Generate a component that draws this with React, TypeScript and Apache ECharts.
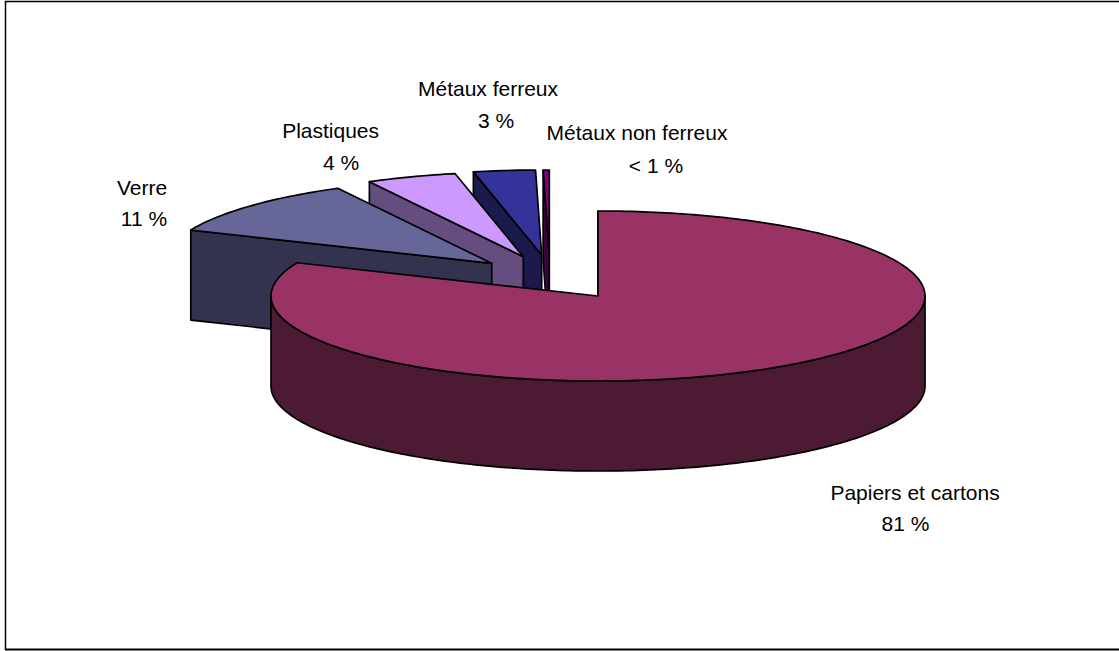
import React, { useEffect, useRef } from "react";
import * as echarts from "echarts";

const categories = ["Papiers et cartons", "Verre", "Plastiques", "Métaux ferreux", "Métaux non ferreux"];
const shares = [81.4, 10.8, 4.45, 3.05, 0.3];
const percentLabels = ["81 %", "11 %", "4 %", "3 %", "< 1 %"];

const topColors = ["#993366", "#666699", "#CC99FF", "#333399", "#800080"];
const wallColors = ["#4D1A33", "#333350", "#664D80", "#1A1A4D", "#400040"];
const explodeX = [0, -106.3, -74.7, -56.3, -48.7];
const explodeY = [0, -32.7, -39.3, -41, -41];
const nameX = [915, 142, 330.6, 488, 637];
const nameY = [492, 187, 130, 88, 132];
const pctX = [905.5, 144, 341, 496, 656];
const pctY = [523, 218, 162, 120, 165];

const CX = 598, CY = 296, RX = 327, RY = 85, DEPTH = 90;
const total = shares.reduce((a, b) => a + b, 0);
const startAngles = shares.map((_, i) => (shares.slice(0, i).reduce((a, b) => a + b, 0) / total) * 360);
const rad = (d: number) => (d * Math.PI) / 180;
const rim = (a: number, ox: number, oy: number, dz = 0): number[] => [
  CX + ox + RX * Math.sin(rad(a)),
  CY + oy - RY * Math.cos(rad(a)) + dz,
];

function renderSlice(_: any, api: any) {
  const i = api.value(0) as number;
  const start = startAngles[i];
  const end = start + (api.value(1) / total) * 360;
  const ox = explodeX[i], oy = explodeY[i];
  const apex = [CX + ox, CY + oy];
  const line = { stroke: "#000", lineWidth: 1.7, lineJoin: "round" };
  const children: any[] = [];
  // radial face at the slice's start
  children.push({
    type: "polygon",
    shape: { points: [apex, rim(start, ox, oy), rim(start, ox, oy, DEPTH), [apex[0], apex[1] + DEPTH]] },
    style: { fill: wallColors[i], ...line },
  });
  // outer wall, only where it faces the viewer
  const a0 = Math.max(start, 90), a1 = Math.min(end, 270);
  if (a1 > a0) {
    const up: number[][] = [], down: number[][] = [];
    for (let a = a0; a <= a1; a += 1) {
      up.push(rim(a, ox, oy));
      down.unshift(rim(a, ox, oy, DEPTH));
    }
    children.push({
      type: "polygon",
      shape: { points: [...up, ...down] },
      style: { fill: wallColors[i], ...line },
    });
  }
  // top face
  const pts: number[][] = [apex];
  const steps = Math.max(2, Math.ceil(end - start));
  for (let s = 0; s <= steps; s++) pts.push(rim(start + ((end - start) * s) / steps, ox, oy));
  children.push({
    type: "polygon",
    shape: { points: pts },
    style: { fill: topColors[i], ...line },
  });
  return { type: "group", children };
}

export default function App() {
  const ref = useRef<HTMLDivElement>(null);
  useEffect(() => {
    document.body.style.margin = "0";
    const chart = echarts.init(ref.current!, undefined, { renderer: "svg" });
    const order = shares.map((_, i) => shares.length - 1 - i);
    const font = { fontFamily: "Liberation Sans, Arial, sans-serif", fontSize: 21, fill: "#000", textAlign: "center", textVerticalAlign: "middle" };
    chart.setOption({
      animation: false,
      backgroundColor: "#fff",
      series: [
        {
          type: "custom",
          coordinateSystem: "none",
          renderItem: renderSlice,
          data: order.map((i) => [i, shares[i]]),
          silent: true,
        },
      ],
      graphic: [
        {
          type: "polyline",
          shape: { points: [[5.5, 650], [5.5, 1.5], [1119, 1.5]] },
          style: { stroke: "#000", lineWidth: 1.5, fill: "none" },
        },
        {
          type: "line",
          shape: { x1: 5, y1: 649.5, x2: 1119, y2: 649.5 },
          style: { stroke: "#000", lineWidth: 2 },
        },
        ...categories.map((c, i) => ({
          type: "text",
          x: nameX[i],
          y: nameY[i],
          style: { text: c, ...font },
        })),
        ...percentLabels.map((p, i) => ({
          type: "text",
          x: pctX[i],
          y: pctY[i],
          style: { text: p, ...font },
        })),
      ],
    });
    return () => chart.dispose();
  }, []);
  return <div ref={ref} style={{ width: 1119, height: 651 }} />;
}
